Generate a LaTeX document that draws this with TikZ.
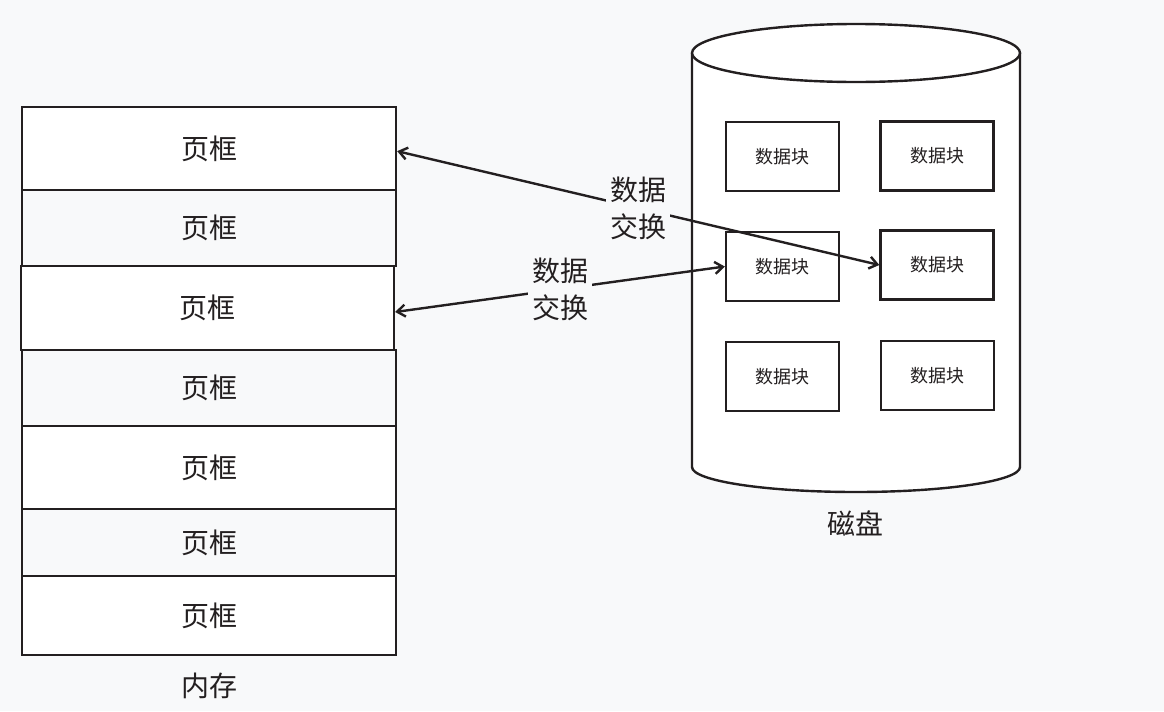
\documentclass[tikz,border=0pt]{standalone}
\usepackage{fontspec}
\newfontfamily\cjk{Noto Sans CJK SC}
\usetikzlibrary{arrows.meta}
\definecolor{bg}{HTML}{F8F9FA}
\definecolor{ink}{HTML}{231F20}
\tikzset{
  frame/.style={draw=ink, line width=1.8pt, minimum width=280.5pt, inner sep=0pt, text=ink,
    font=\cjk\fontsize{21}{21}\selectfont},
  block/.style={draw=ink, line width=1.8pt, fill=white, minimum width=84.75pt, minimum height=51.75pt,
    inner sep=0pt, text=ink, font=\cjk\fontsize{13.5}{13.5}\selectfont},
  caption/.style={text=ink, font=\cjk\fontsize{21}{21}\selectfont},
  link/.style={draw=ink, line width=1.8pt, {Straight Barb[length=6pt,width=9pt]}-{Straight Barb[length=6pt,width=9pt]}},
  swaplabel/.style={fill=bg, text=ink, align=center, inner sep=3pt, font=\cjk\fontsize{21}{27.75}\selectfont}
}
\begin{document}
\begin{tikzpicture}[x=0.75pt,y=-0.75pt]
		\useasboundingbox[fill=bg] (0,0) rectangle (1164,711);
		% memory
		\node [frame, fill=white, minimum height=62.25pt] (f1) at (209,148.5) {\raisebox{-1.5pt}{页框}};
		\node [frame, minimum height=57pt] (f2) at (209,228) {\raisebox{-1.5pt}{页框}};
		\node [frame, fill=white, minimum height=63pt, minimum width=279.75pt] (f3) at (207.5,308) {\raisebox{-1.5pt}{页框}};
		\node [frame, minimum height=57pt] (f4) at (209,388) {\raisebox{-1.5pt}{页框}};
		\node [frame, fill=white, minimum height=62.25pt] (f5) at (209,467.5) {\raisebox{-1.5pt}{页框}};
		\node [frame, minimum height=50.25pt] (f6) at (209,542.5) {\raisebox{-1.5pt}{页框}};
		\node [frame, fill=white, minimum height=59.25pt] (f7) at (209,615.5) {\raisebox{-1.5pt}{页框}};
		\node [caption] (mem) at (209,686) {内存};
		% disk
		\draw [draw=ink, line width=1.8pt, fill=white] (692,53) -- (692,467)
			arc [start angle=180, end angle=360, x radius=123pt, y radius=18.75pt] -- (1020,53);
		\draw [draw=ink, line width=1.8pt, fill=white] (856,53) ellipse [x radius=123pt, y radius=21.75pt];
		\node [caption] (disk) at (855,523) {磁盘};
		\node [block] (b11) at (782.5,156.5) {数据块};
		\node [block] (b12) at (937,156) {数据块};
		\node [block] (b21) at (782.5,266.5) {数据块};
		\node [block] (b22) at (937,265) {数据块};
		\node [block] (b31) at (782.5,376.5) {数据块};
		\node [block] (b32) at (937.5,375.5) {数据块};
		% swaps
		\draw [link] ([yshift=-2pt]f1.east) -- node [swaplabel] {数据\\交换} (b22.west);
		\draw [link] ([yshift=-3pt]f3.east) -- node [swaplabel] {数据\\交换} (b21.west);
\end{tikzpicture}
\end{document}
